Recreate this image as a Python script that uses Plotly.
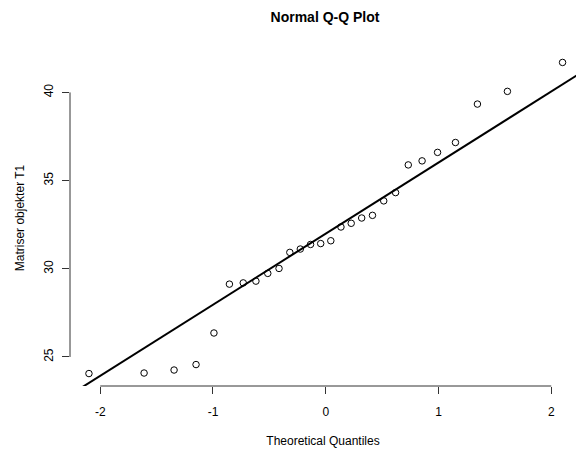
import numpy as np
import plotly.graph_objects as go

# Sample values (Matriser objekter T1), sorted
sample_values = [24.06, 24.09, 24.26, 24.57, 26.36, 29.13, 29.20, 29.30, 29.74, 30.02,
                 30.93, 31.12, 31.38, 31.43, 31.59, 32.37, 32.58, 32.88, 33.03, 33.85,
                 34.32, 35.89, 36.12, 36.60, 37.16, 39.34, 40.06, 41.70]
x_tick_values = [-2, -1, 0, 1, 2]
y_tick_values = [25, 30, 35, 40]
title_text = "Normal Q-Q Plot"
x_title = "Theoretical Quantiles"
y_title = "Matriser objekter T1"

# Inverse normal CDF (Acklam's approximation)
def qnorm(p):
    a = [-3.969683028665376e+01, 2.209460984245205e+02, -2.759285104469687e+02,
         1.383577518672690e+02, -3.066479806614716e+01, 2.506628277459239e+00]
    b = [-5.447609879822406e+01, 1.615858368580409e+02, -1.556989798598866e+02,
         6.680131188771972e+01, -1.328068155288572e+01]
    c = [-7.784894002430293e-03, -3.223964580411365e-01, -2.400758277161838e+00,
         -2.549732539343734e+00, 4.374664141464968e+00, 2.938163982698783e+00]
    d = [7.784695709041462e-03, 3.224671290700398e-01, 2.445134137142996e+00,
         3.754408661907416e+00]
    plow = 0.02425
    if p < plow:
        q = np.sqrt(-2 * np.log(p))
        return (((((c[0]*q+c[1])*q+c[2])*q+c[3])*q+c[4])*q+c[5]) / ((((d[0]*q+d[1])*q+d[2])*q+d[3])*q+1)
    if p > 1 - plow:
        q = np.sqrt(-2 * np.log(1 - p))
        return -(((((c[0]*q+c[1])*q+c[2])*q+c[3])*q+c[4])*q+c[5]) / ((((d[0]*q+d[1])*q+d[2])*q+d[3])*q+1)
    q = p - 0.5
    r = q * q
    return (((((a[0]*r+a[1])*r+a[2])*r+a[3])*r+a[4])*r+a[5])*q / (((((b[0]*r+b[1])*r+b[2])*r+b[3])*r+b[4])*r+1)

y = np.array(sample_values)
n = len(y)
pp = (np.arange(1, n + 1) - 0.5) / n
x = np.array([qnorm(p) for p in pp])

# qqline through quartiles
q1, q3 = np.quantile(y, [0.25, 0.75])
z1, z3 = qnorm(0.25), qnorm(0.75)
slope = (q3 - q1) / (z3 - z1)
intercept = q1 - slope * z1

# R-style ranges (4% extension)
xr = x.max() - x.min()
yr = y.max() - y.min()
xlo = x.min() - 0.04 * xr
xhi_full = x.max() + 0.04 * xr
ylo = y.min() - 0.04 * yr
yhi = y.max() + 0.04 * yr
# the original picture is cropped on the right
plot_left, plot_right_full, img_w = 70, 581.5, 576
xhi = xlo + (xhi_full - xlo) * (img_w - plot_left) / (plot_right_full - plot_left)

line_x = np.array([xlo - 1, xhi_full + 1])
line_y = intercept + slope * line_x

fig = go.Figure()
fig.add_trace(go.Scatter(x=line_x, y=line_y, mode="lines",
                         line=dict(color="black", width=2), hoverinfo="skip",
                         showlegend=False))
fig.add_trace(go.Scatter(x=x, y=y, mode="markers",
                         marker=dict(symbol="circle-open", size=6.5,
                                     line=dict(color="black", width=1), color="black"),
                         showlegend=False))

axis_col = "#333333"
shapes = [
    dict(type="line", xref="x", yref="paper", x0=x_tick_values[0], x1=x_tick_values[-1],
         y0=0, y1=0, line=dict(color=axis_col, width=1)),
    dict(type="line", xref="paper", yref="y", x0=0, x1=0,
         y0=y_tick_values[0], y1=y_tick_values[-1], line=dict(color=axis_col, width=1)),
]

font_family = "Liberation Sans, Arial, sans-serif"
fig.update_layout(
    width=576, height=452,
    margin=dict(l=70, r=0, t=50, b=66),
    paper_bgcolor="white", plot_bgcolor="white",
    font=dict(family=font_family, size=12, color="black"),
    title=dict(text="<b>" + title_text + "</b>", x=325 / 576, xref="container",
               xanchor="center", y=1 - 17 / 452, yref="container", yanchor="middle",
               font=dict(size=14, family=font_family, color="black")),
    xaxis=dict(range=[xlo, xhi], showgrid=False, zeroline=False, showline=False,
               tickmode="array", tickvals=x_tick_values,
               ticktext=[str(v) for v in x_tick_values],
               ticks="outside", ticklen=7, tickcolor=axis_col, tickwidth=1,
               ticklabelstandoff=8,
               title=dict(text=x_title, standoff=18, font=dict(size=12))),
    yaxis=dict(range=[ylo, yhi], showgrid=False, zeroline=False, showline=False,
               tickmode="array", tickvals=y_tick_values,
               ticktext=[str(v) for v in y_tick_values],
               ticks="outside", ticklen=7, tickcolor=axis_col, tickwidth=1,
               tickangle=-90, ticklabelstandoff=4,
               title=dict(text=y_title, standoff=15, font=dict(size=12))),
    shapes=shapes,
)

fig.write_html("out.html")
